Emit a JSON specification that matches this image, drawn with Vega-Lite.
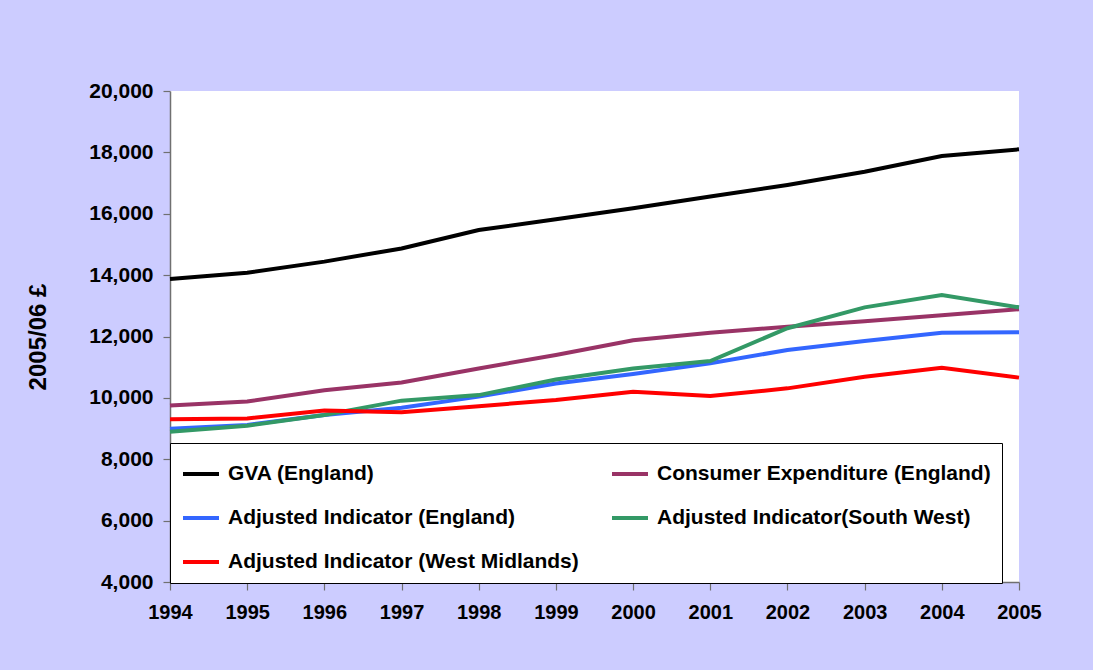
{
  "$schema": "https://vega.github.io/schema/vega-lite/v6.json",
  "width": 849,
  "height": 491,
  "autosize": {"type": "none"},
  "padding": {"left": 170, "top": 91, "right": 74, "bottom": 88},
  "background": "#CCCCFF",
  "config": {
    "view": {"fill": "white", "stroke": null},
    "font": "Liberation Sans",
    "axis": {
      "labelFont": "Liberation Sans",
      "labelFontWeight": "bold",
      "labelFontSize": 20,
      "labelColor": "black",
      "domainColor": "#707070",
      "tickColor": "#707070",
      "domainWidth": 1.5,
      "tickWidth": 1.2,
      "grid": false,
      "titleFont": "Liberation Sans",
      "titleFontWeight": "bold",
      "titleFontSize": 24,
      "titleColor": "black"
    },
    "legend": {
      "orient": "none",
      "legendX": 0,
      "legendY": 352,
      "direction": "horizontal",
      "columns": 2,
      "gridAlign": "all",
      "fillColor": "white",
      "strokeColor": "black",
      "strokeWidth": 1,
      "padding": 11,
      "rowPadding": 14,
      "columnPadding": 25,
      "symbolType": "M-1,0H1",
      "symbolSize": 1296,
      "symbolStrokeWidth": 4,
      "labelFont": "Liberation Sans",
      "labelFontWeight": "bold",
      "labelFontSize": 21,
      "labelColor": "black",
      "labelOffset": 7,
      "labelLimit": 0
    }
  },
  "data": {
    "values": [
      {"year": "1994", "series": "GVA (England)", "value": 13870},
      {"year": "1995", "series": "GVA (England)", "value": 14080},
      {"year": "1996", "series": "GVA (England)", "value": 14440},
      {"year": "1997", "series": "GVA (England)", "value": 14870},
      {"year": "1998", "series": "GVA (England)", "value": 15470},
      {"year": "1999", "series": "GVA (England)", "value": 15820},
      {"year": "2000", "series": "GVA (England)", "value": 16180},
      {"year": "2001", "series": "GVA (England)", "value": 16560},
      {"year": "2002", "series": "GVA (England)", "value": 16940},
      {"year": "2003", "series": "GVA (England)", "value": 17370},
      {"year": "2004", "series": "GVA (England)", "value": 17880},
      {"year": "2005", "series": "GVA (England)", "value": 18100},
      {"year": "1994", "series": "Consumer Expenditure (England)", "value": 9750},
      {"year": "1995", "series": "Consumer Expenditure (England)", "value": 9880},
      {"year": "1996", "series": "Consumer Expenditure (England)", "value": 10250},
      {"year": "1997", "series": "Consumer Expenditure (England)", "value": 10500},
      {"year": "1998", "series": "Consumer Expenditure (England)", "value": 10960},
      {"year": "1999", "series": "Consumer Expenditure (England)", "value": 11400},
      {"year": "2000", "series": "Consumer Expenditure (England)", "value": 11880},
      {"year": "2001", "series": "Consumer Expenditure (England)", "value": 12120},
      {"year": "2002", "series": "Consumer Expenditure (England)", "value": 12320},
      {"year": "2003", "series": "Consumer Expenditure (England)", "value": 12500},
      {"year": "2004", "series": "Consumer Expenditure (England)", "value": 12690},
      {"year": "2005", "series": "Consumer Expenditure (England)", "value": 12890},
      {"year": "1994", "series": "Adjusted Indicator (England)", "value": 8990},
      {"year": "1995", "series": "Adjusted Indicator (England)", "value": 9120},
      {"year": "1996", "series": "Adjusted Indicator (England)", "value": 9440},
      {"year": "1997", "series": "Adjusted Indicator (England)", "value": 9680},
      {"year": "1998", "series": "Adjusted Indicator (England)", "value": 10040},
      {"year": "1999", "series": "Adjusted Indicator (England)", "value": 10470},
      {"year": "2000", "series": "Adjusted Indicator (England)", "value": 10780},
      {"year": "2001", "series": "Adjusted Indicator (England)", "value": 11130},
      {"year": "2002", "series": "Adjusted Indicator (England)", "value": 11560},
      {"year": "2003", "series": "Adjusted Indicator (England)", "value": 11850},
      {"year": "2004", "series": "Adjusted Indicator (England)", "value": 12120},
      {"year": "2005", "series": "Adjusted Indicator (England)", "value": 12140},
      {"year": "1994", "series": "Adjusted Indicator(South West)", "value": 8900},
      {"year": "1995", "series": "Adjusted Indicator(South West)", "value": 9090},
      {"year": "1996", "series": "Adjusted Indicator(South West)", "value": 9440},
      {"year": "1997", "series": "Adjusted Indicator(South West)", "value": 9910},
      {"year": "1998", "series": "Adjusted Indicator(South West)", "value": 10090},
      {"year": "1999", "series": "Adjusted Indicator(South West)", "value": 10600},
      {"year": "2000", "series": "Adjusted Indicator(South West)", "value": 10960},
      {"year": "2001", "series": "Adjusted Indicator(South West)", "value": 11200},
      {"year": "2002", "series": "Adjusted Indicator(South West)", "value": 12270},
      {"year": "2003", "series": "Adjusted Indicator(South West)", "value": 12950},
      {"year": "2004", "series": "Adjusted Indicator(South West)", "value": 13350},
      {"year": "2005", "series": "Adjusted Indicator(South West)", "value": 12950},
      {"year": "1994", "series": "Adjusted Indicator (West Midlands)", "value": 9300},
      {"year": "1995", "series": "Adjusted Indicator (West Midlands)", "value": 9330},
      {"year": "1996", "series": "Adjusted Indicator (West Midlands)", "value": 9590},
      {"year": "1997", "series": "Adjusted Indicator (West Midlands)", "value": 9530},
      {"year": "1998", "series": "Adjusted Indicator (West Midlands)", "value": 9730},
      {"year": "1999", "series": "Adjusted Indicator (West Midlands)", "value": 9930},
      {"year": "2000", "series": "Adjusted Indicator (West Midlands)", "value": 10200},
      {"year": "2001", "series": "Adjusted Indicator (West Midlands)", "value": 10060},
      {"year": "2002", "series": "Adjusted Indicator (West Midlands)", "value": 10310},
      {"year": "2003", "series": "Adjusted Indicator (West Midlands)", "value": 10690},
      {"year": "2004", "series": "Adjusted Indicator (West Midlands)", "value": 10980},
      {"year": "2005", "series": "Adjusted Indicator (West Midlands)", "value": 10660}
    ]
  },
  "mark": {"type": "line", "strokeWidth": 4, "strokeJoin": "miter"},
  "encoding": {
    "x": {
      "field": "year",
      "type": "ordinal",
      "scale": {"type": "point", "padding": 0},
      "axis": {"title": null, "labelAngle": 0, "tickSize": 8, "labelPadding": 12, "labelFontSize": 20}
    },
    "y": {
      "field": "value",
      "type": "quantitative",
      "scale": {"domain": [4000, 20000], "nice": false, "zero": false},
      "axis": {"title": "2005/06 £", "values": [4000, 6000, 8000, 10000, 12000, 14000, 16000, 18000, 20000], "format": ",.0f", "tickSize": 7, "labelPadding": 10, "labelFontSize": 21, "titlePadding": 38}
    },
    "color": {
      "field": "series",
      "type": "nominal",
      "sort": null,
      "scale": {
        "domain": ["GVA (England)", "Consumer Expenditure (England)", "Adjusted Indicator (England)", "Adjusted Indicator(South West)", "Adjusted Indicator (West Midlands)"],
        "range": ["#000000", "#993366", "#3366FF", "#339966", "#FF0000"]
      },
      "legend": {"title": null}
    }
  }
}
